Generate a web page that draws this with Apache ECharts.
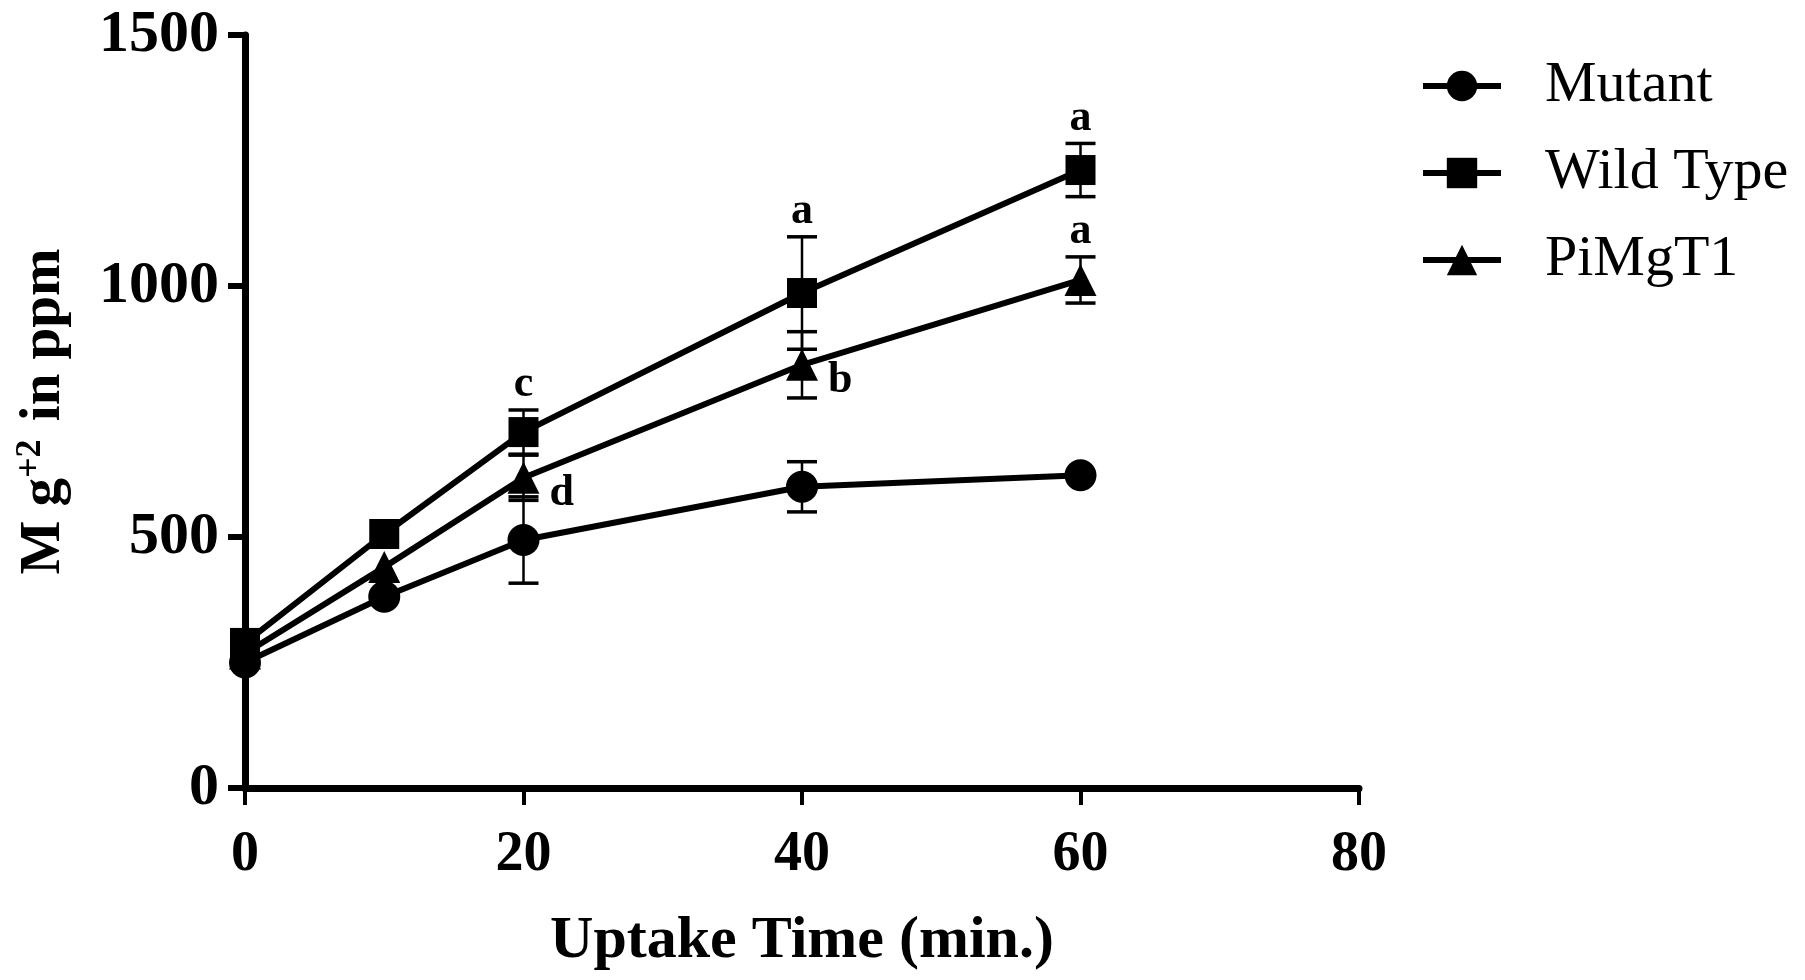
<!DOCTYPE html>
<html>
<head>
<meta charset="utf-8">
<script src="https://cdn.jsdelivr.net/npm/echarts@6/dist/echarts.min.js"></script>
<style>
html,body{margin:0;padding:0;background:#fff;}
#chart{width:1805px;height:980px;}
</style>
</head>
<body>
<div id="chart"></div>
<script>
// ---- data ----
var times = [0, 10, 20, 40, 60];
var seriesNames = ['Mutant', 'Wild Type', 'PiMgT1'];
var mutantValues = [250, 381, 494, 600, 623];
var mutantErrors = [0, 0, 86, 50, 0];
var wildTypeValues = [289, 506, 709, 986, 1231];
var wildTypeErrors = [0, 0, 44, 112, 53];
var piMgT1Values = [268, 440, 618, 843, 1012];
var piMgT1Errors = [0, 0, 45, 66, 46];
var xTicks = [0, 20, 40, 60, 80];
var yTicks = [0, 500, 1000, 1500];
var letterTexts = ['c', 'a', 'a', 'a', 'd', 'b'];
var letterSeries = ['Wild Type', 'Wild Type', 'Wild Type', 'PiMgT1', 'PiMgT1', 'PiMgT1'];
var letterTimes = [20, 40, 60, 60, 20, 40];
var letterPlace = ['above', 'above', 'above', 'above', 'right', 'right'];

var valuesBy = {'Mutant': mutantValues, 'Wild Type': wildTypeValues, 'PiMgT1': piMgT1Values};
var errorsBy = {'Mutant': mutantErrors, 'Wild Type': wildTypeErrors, 'PiMgT1': piMgT1Errors};
var symbols = {'Mutant': 'circle', 'Wild Type': 'rect', 'PiMgT1': 'triangle'};

var SERIF = '"Liberation Serif", "Times New Roman", serif';

function lineSeries(name) {
  return {
    name: name,
    type: 'line',
    data: times.map(function (t, i) { return [t, valuesBy[name][i]]; }),
    symbol: symbols[name],
    symbolSize: name === 'Wild Type' ? 30 : 32,
    showAllSymbol: true,
    lineStyle: {color: '#000', width: 6},
    itemStyle: {color: '#000'},
    z: 3,
    animation: false
  };
}

function errorSeries(name) {
  var d = [];
  times.forEach(function (t, i) {
    if (errorsBy[name][i] > 0) d.push([t, valuesBy[name][i], errorsBy[name][i]]);
  });
  return {
    type: 'custom',
    name: name + ' err',
    data: d,
    z: 4,
    animation: false,
    renderItem: function (params, api) {
      var x = api.value(0), y = api.value(1), e = api.value(2);
      var top = api.coord([x, y + e]);
      var bot = api.coord([x, y - e]);
      var hw = 15;
      return {
        type: 'group',
        children: [
          {type: 'line', shape: {x1: top[0], y1: top[1], x2: bot[0], y2: bot[1]}, style: {stroke: '#000', lineWidth: 2.5}},
          {type: 'line', shape: {x1: top[0] - hw, y1: top[1], x2: top[0] + hw, y2: top[1]}, style: {stroke: '#000', lineWidth: 3.5}},
          {type: 'line', shape: {x1: bot[0] - hw, y1: bot[1], x2: bot[0] + hw, y2: bot[1]}, style: {stroke: '#000', lineWidth: 3.5}}
        ]
      };
    }
  };
}

var letterData = letterTexts.map(function (txt, i) {
  var s = letterSeries[i];
  var idx = times.indexOf(letterTimes[i]);
  return [letterTimes[i], valuesBy[s][idx], errorsBy[s][idx], i];
});

var letterSeriesObj = {
  type: 'custom',
  name: 'letters',
  data: letterData,
  z: 5,
  animation: false,
  renderItem: function (params, api) {
    var x = api.value(0), y = api.value(1), e = api.value(2), k = api.value(3);
    var txt = letterTexts[k];
    var px, py, va, al;
    if (letterPlace[k] === 'above') {
      var p = api.coord([x, y + e]);
      px = p[0]; py = p[1] - 3; va = 'bottom'; al = 'center';
    } else {
      var q = api.coord([x, y]);
      px = q[0] + 26; py = q[1] + 16; va = 'middle'; al = 'left';
    }
    return {
      type: 'text',
      x: px, y: py,
      style: {text: txt, fill: '#000', fontSize: 44, fontWeight: 'bold', fontFamily: SERIF, align: al, verticalAlign: va}
    };
  }
};

var chart = echarts.init(document.getElementById('chart'), null, {renderer: 'canvas'});
chart.setOption({
  backgroundColor: '#fff',
  animation: false,
  grid: {left: 245, right: 446, top: 35, bottom: 192, containLabel: false},
  legend: {
    data: seriesNames,
    orient: 'vertical',
    left: 1415,
    top: 52,
    itemWidth: 78,
    itemHeight: 38,
    itemGap: 29,
    lineStyle: {width: 6, color: '#000'},
    textStyle: {fontFamily: SERIF, fontSize: 58, lineHeight: 58, color: '#000', padding: [0, 0, 0, 39]}
  },
  xAxis: {
    type: 'value',
    min: xTicks[0],
    max: xTicks[xTicks.length - 1],
    interval: xTicks[1] - xTicks[0],
    name: 'Uptake Time (min.)',
    nameLocation: 'middle',
    nameGap: 123,
    nameTextStyle: {fontFamily: SERIF, fontWeight: 'bold', fontSize: 60, color: '#000'},
    axisLine: {show: true, onZero: false, lineStyle: {color: '#000', width: 7}},
    axisTick: {show: true, length: 17, lineStyle: {color: '#000', width: 4}},
    axisLabel: {fontFamily: SERIF, fontWeight: 'bold', fontSize: 56, color: '#000', margin: 40},
    splitLine: {show: false}
  },
  yAxis: {
    type: 'value',
    min: yTicks[0],
    max: yTicks[yTicks.length - 1],
    interval: yTicks[1] - yTicks[0],
    name: '{m|M g}{s|+2}{m| in ppm}',
    nameLocation: 'middle',
    nameGap: 172,
    nameRotate: 90,
    nameTextStyle: {
      fontFamily: SERIF, fontWeight: 'bold', fontSize: 56, color: '#000',
      rich: {
        m: {fontFamily: SERIF, fontWeight: 'bold', fontSize: 57, color: '#000', lineHeight: 60, verticalAlign: 'bottom'},
        s: {fontFamily: SERIF, fontWeight: 'bold', fontSize: 36, color: '#000', lineHeight: 60, verticalAlign: 'top', padding: [0, 4, 22, 0]}
      }
    },
    axisLine: {show: true, lineStyle: {color: '#000', width: 7}},
    axisTick: {show: true, length: 17, lineStyle: {color: '#000', width: 6}},
    axisLabel: {
      fontFamily: SERIF, fontWeight: 'bold', fontSize: 60, color: '#000', margin: 26,
      formatter: function (v) { return String(v); }
    },
    splitLine: {show: false}
  },
  series: [
    lineSeries('Mutant'),
    lineSeries('Wild Type'),
    lineSeries('PiMgT1'),
    errorSeries('Mutant'),
    errorSeries('Wild Type'),
    errorSeries('PiMgT1'),
    letterSeriesObj
  ]
});
</script>
</body>
</html>
